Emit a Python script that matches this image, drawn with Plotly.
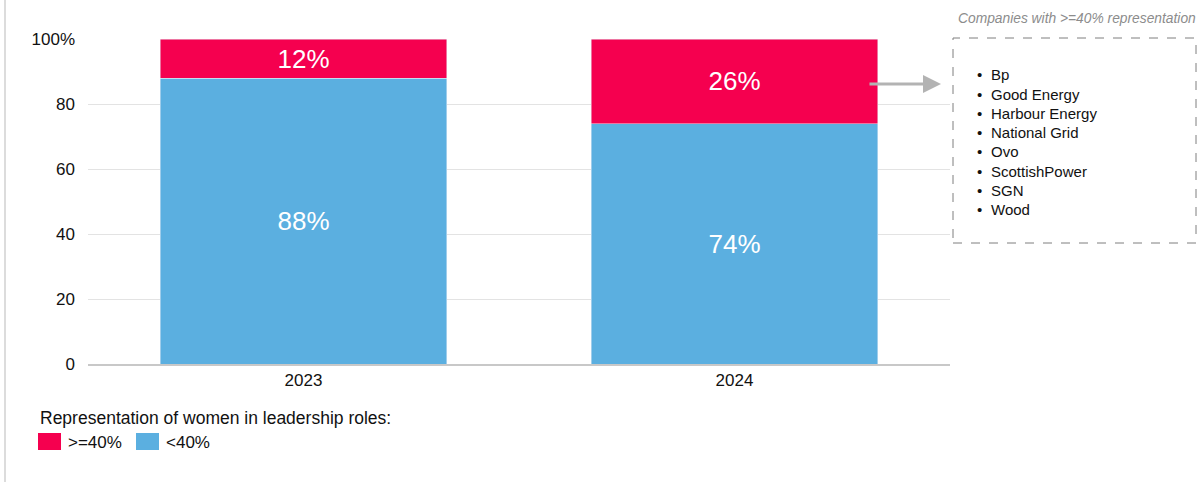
import plotly.graph_objects as go

years = ["2023", "2024"]
high = [12, 26]      # >=40%
low = [88, 74]       # <40%
n_labels = ["N = 34", "N = 34"]
companies = ["Bp", "Good Energy", "Harbour Energy", "National Grid", "Ovo",
             "ScottishPower", "SGN", "Wood"]
yticks = [0, 20, 40, 60, 80, 100]
yticktext = ["0", "20", "40", "60", "80", "100%"]
legend_title = "Representation of women in leadership roles:"
legend_items = [(">=40%", "#F5004F"), ("<40%", "#5BAFE0")]

RED = "#F5004F"
BLUE = "#5BAFE0"
FONT = "Liberation Sans, Arial, sans-serif"

# screen coordinates (page body margin removed via post_script)
SL, ST, SR, SB = 88, 39, 950, 364
PW, PH = SR - SL, SB - ST
W, H = 1200, 482
L, T = SL, ST
R = W - L - PW
B = H - T - PH

def px(x):
    return (x - SL) / PW

def py(y):
    return (SB - y) / PH

fig = go.Figure()
fig.add_trace(go.Bar(x=years, y=low, name="<40%", marker_color=BLUE,
                     text=[f"{v}%" for v in low], textposition="inside",
                     insidetextanchor="middle",
                     textfont=dict(color="white", size=26, family=FONT),
                     width=0.664, showlegend=False))
fig.add_trace(go.Bar(x=years, y=high, name=">=40%", marker_color=RED,
                     text=[f"{v}%" for v in high], textposition="inside",
                     insidetextanchor="middle",
                     textfont=dict(color="white", size=26, family=FONT),
                     width=0.664, showlegend=False))

for yr, lab, h, l in zip(years, n_labels, high, low):
    fig.add_annotation(x=yr, y=h + l, text=lab, showarrow=False, yanchor="bottom",
                       yshift=1, font=dict(size=17, color="#111", family=FONT))

# Box with company list
fig.add_shape(type="rect", xref="paper", yref="paper",
              x0=px(953), x1=px(1196), y0=py(243), y1=py(38),
              line=dict(color="#7f7f7f", width=1, dash="dash"))
fig.add_annotation(xref="paper", yref="paper", x=px(1077), y=py(18),
                   xanchor="center", yanchor="middle",
                   text="<i>Companies with >=40% representation</i>", showarrow=False,
                   font=dict(size=13.8, color="#8c8c8c", family=FONT))
for i, c in enumerate(companies):
    yy = py(75 + i * 19.2)
    fig.add_annotation(xref="paper", yref="paper", x=px(975), y=yy, text="•",
                       showarrow=False, xanchor="left", yanchor="middle",
                       font=dict(size=15, color="#111", family=FONT))
    fig.add_annotation(xref="paper", yref="paper", x=px(989), y=yy, text=c,
                       showarrow=False, xanchor="left", yanchor="middle",
                       font=dict(size=15, color="#111", family=FONT))

# Arrow
fig.add_annotation(xref="paper", yref="paper", x=px(941), y=py(84),
                   ax=-73, ay=0, axref="pixel", ayref="pixel",
                   text="", showarrow=True, arrowhead=2, arrowsize=1.2,
                   arrowwidth=3, arrowcolor="#b3b3b3")

# left vertical line
fig.add_shape(type="line", xref="paper", yref="paper", x0=px(5), x1=px(5),
              y0=py(490), y1=py(0), line=dict(color="#d0d0d0", width=1.5))

# manual legend
fig.add_annotation(xref="paper", yref="paper", x=px(38), y=py(418), text=legend_title,
                   showarrow=False, xanchor="left", yanchor="middle",
                   font=dict(size=17.5, color="#111", family=FONT))
lx = [38, 136]
for (lab, col), x0 in zip(legend_items, lx):
    fig.add_shape(type="rect", xref="paper", yref="paper",
                  x0=px(x0), x1=px(x0 + 23), y0=py(450), y1=py(433),
                  fillcolor=col, line=dict(width=0))
    fig.add_annotation(xref="paper", yref="paper", x=px(x0 + 28), y=py(442), text=lab,
                       showarrow=False, xanchor="left", yanchor="middle",
                       font=dict(size=17, color="#111", family=FONT))

fig.update_layout(
    width=W, height=H, barmode="stack",
    margin=dict(l=L, r=R, t=T, b=B, autoexpand=False),
    plot_bgcolor="white", paper_bgcolor="white",
    font=dict(family=FONT, size=17, color="#111"),
    showlegend=False,
    xaxis=dict(type="category", showline=True, linecolor="#c8c8c8", linewidth=1.5,
               tickfont=dict(size=17), ticks="", range=[-0.5, 1.5]),
    yaxis=dict(range=[0, 100], tickvals=yticks, ticktext=yticktext,
               showgrid=True, gridcolor="#e3e3e3", zeroline=False,
               tickfont=dict(size=17), ticklabelstandoff=12),
)

fig.write_html("out.html", config={"displayModeBar": False},
               post_script="document.body.style.margin='0';document.body.style.overflow='hidden';")
